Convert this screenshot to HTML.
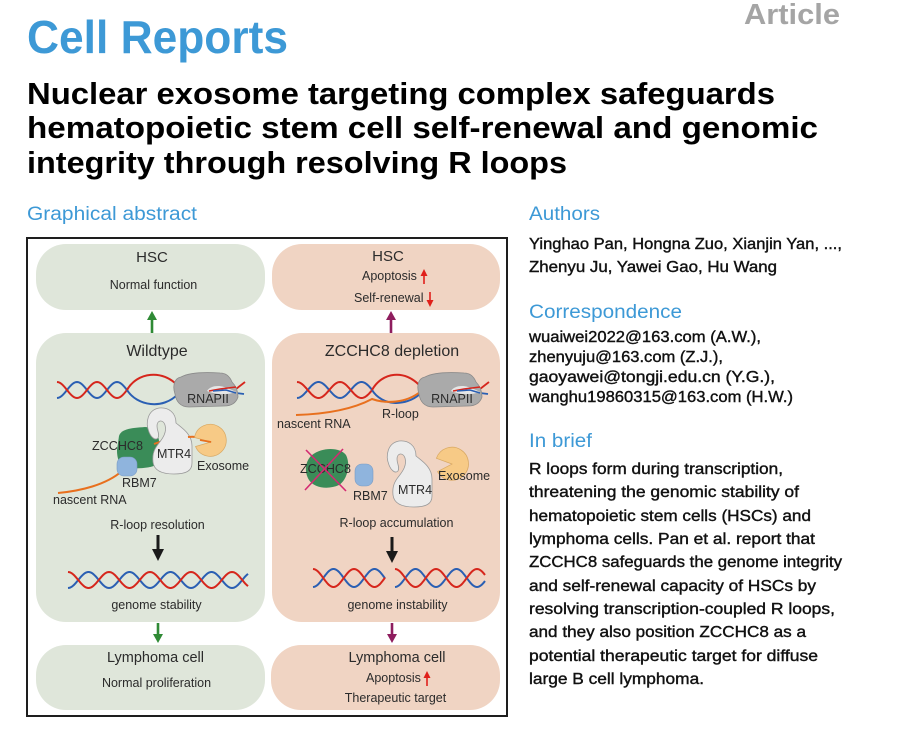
<!DOCTYPE html>
<html><head><meta charset="utf-8"><style>
html,body{margin:0;padding:0;background:#fff;}
body{width:913px;height:729px;overflow:hidden;}
svg{display:block;}
text{font-family:"Liberation Sans",Arial,sans-serif;}
.lab{font-size:12.5px;fill:#2b2b2b;}
.body{font-size:16px;fill:#111;stroke:#111;stroke-width:0.4px;}
.hd{font-size:19px;fill:#3d99d6;}
</style></head><body>
<svg id="s" width="913" height="729" viewBox="0 0 913 729" xmlns="http://www.w3.org/2000/svg">
<rect width="913" height="729" fill="#fff"/>
<!-- header -->
<text x="27" y="53" font-size="46" font-weight="bold" fill="#3d99d6" textLength="261" lengthAdjust="spacingAndGlyphs">Cell Reports</text>
<text x="744" y="24" font-size="29" font-weight="bold" fill="#a5a5a5" textLength="96" lengthAdjust="spacingAndGlyphs">Article</text>
<text x="27" y="104" font-size="31" font-weight="bold" fill="#000" textLength="748" lengthAdjust="spacingAndGlyphs">Nuclear exosome targeting complex safeguards</text>
<text x="27" y="138" font-size="31" font-weight="bold" fill="#000" textLength="791" lengthAdjust="spacingAndGlyphs">hematopoietic stem cell self-renewal and genomic</text>
<text x="27" y="173" font-size="31" font-weight="bold" fill="#000" textLength="540" lengthAdjust="spacingAndGlyphs">integrity through resolving R loops</text>
<text x="27" y="220" class="hd" textLength="170" lengthAdjust="spacingAndGlyphs">Graphical abstract</text>
<!-- right column -->
<text x="529" y="220" class="hd" textLength="71" lengthAdjust="spacingAndGlyphs">Authors</text>
<text x="529" y="249" class="body" textLength="313" lengthAdjust="spacingAndGlyphs">Yinghao Pan, Hongna Zuo, Xianjin Yan, ...,</text>
<text x="529" y="272" class="body" textLength="248" lengthAdjust="spacingAndGlyphs">Zhenyu Ju, Yawei Gao, Hu Wang</text>
<text x="529" y="318" class="hd" textLength="153" lengthAdjust="spacingAndGlyphs">Correspondence</text>
<text x="529" y="342" class="body" textLength="232" lengthAdjust="spacingAndGlyphs">wuaiwei2022@163.com (A.W.),</text>
<text x="529" y="362" class="body" textLength="194" lengthAdjust="spacingAndGlyphs">zhenyuju@163.com (Z.J.),</text>
<text x="529" y="382" class="body" textLength="246" lengthAdjust="spacingAndGlyphs">gaoyawei@tongji.edu.cn (Y.G.),</text>
<text x="529" y="402" class="body" textLength="264" lengthAdjust="spacingAndGlyphs">wanghu19860315@163.com (H.W.)</text>
<text x="529" y="447" class="hd" textLength="63" lengthAdjust="spacingAndGlyphs">In brief</text>
<text x="529" y="474" class="body" textLength="254" lengthAdjust="spacingAndGlyphs">R loops form during transcription,</text>
<text x="529" y="497" class="body" textLength="270" lengthAdjust="spacingAndGlyphs">threatening the genomic stability of</text>
<text x="529" y="521" class="body" textLength="282" lengthAdjust="spacingAndGlyphs">hematopoietic stem cells (HSCs) and</text>
<text x="529" y="544" class="body" textLength="286" lengthAdjust="spacingAndGlyphs">lymphoma cells. Pan et al. report that</text>
<text x="529" y="567" class="body" textLength="313" lengthAdjust="spacingAndGlyphs">ZCCHC8 safeguards the genome integrity</text>
<text x="529" y="591" class="body" textLength="287" lengthAdjust="spacingAndGlyphs">and self-renewal capacity of HSCs by</text>
<text x="529" y="614" class="body" textLength="306" lengthAdjust="spacingAndGlyphs">resolving transcription-coupled R loops,</text>
<text x="529" y="637" class="body" textLength="277" lengthAdjust="spacingAndGlyphs">and they also position ZCCHC8 as a</text>
<text x="529" y="661" class="body" textLength="289" lengthAdjust="spacingAndGlyphs">potential therapeutic target for diffuse</text>
<text x="529" y="684" class="body" textLength="175" lengthAdjust="spacingAndGlyphs">large B cell lymphoma.</text>

<!-- frame -->
<rect x="27" y="238" width="480" height="478" fill="#fff" stroke="#1e1e1e" stroke-width="2"/>
<!-- panels -->
<rect x="36" y="244" width="229" height="66" rx="30" fill="#dfe6da"/>
<rect x="36" y="333" width="229" height="289" rx="30" fill="#dfe6da"/>
<rect x="36" y="645" width="229" height="65" rx="30" fill="#dfe6da"/>
<rect x="272" y="244" width="228" height="66" rx="30" fill="#f0d4c3"/>
<rect x="272" y="333" width="228" height="289" rx="30" fill="#f0d4c3"/>
<rect x="271" y="645" width="229" height="65" rx="30" fill="#f0d4c3"/>

<!-- panel texts -->
<text x="152" y="262" class="lab" style="font-size:15px" text-anchor="middle">HSC</text>
<text x="153.5" y="289" class="lab" text-anchor="middle">Normal function</text>
<text x="388" y="261" class="lab" style="font-size:15px" text-anchor="middle">HSC</text>
<text x="362" y="280" class="lab">Apoptosis</text>
<text x="354" y="302" class="lab">Self-renewal</text>
<text x="157" y="356" class="lab" style="font-size:16px" text-anchor="middle">Wildtype</text>
<text x="392" y="356" class="lab" style="font-size:16px" text-anchor="middle">ZCCHC8 depletion</text>
<text x="155.5" y="662" class="lab" style="font-size:14.5px" text-anchor="middle">Lymphoma cell</text>
<text x="156.5" y="687" class="lab" text-anchor="middle">Normal proliferation</text>
<text x="397" y="662" class="lab" style="font-size:14.5px" text-anchor="middle">Lymphoma cell</text>
<text x="366" y="682" class="lab">Apoptosis</text>
<text x="395.5" y="702" class="lab" text-anchor="middle">Therapeutic target</text>
<text x="157.5" y="529" class="lab" text-anchor="middle">R-loop resolution</text>
<text x="396.5" y="527" class="lab" text-anchor="middle">R-loop accumulation</text>
<text x="156.5" y="609" class="lab" text-anchor="middle">genome stability</text>
<text x="397.5" y="609" class="lab" text-anchor="middle">genome instability</text>

<!-- red small arrows -->
<g stroke="#e0201b" stroke-width="1.6" fill="#e0201b">
<line x1="424" y1="284" x2="424" y2="274"/><polygon points="420.5,276 424,269 427.5,276" stroke="none"/>
<line x1="430" y1="292" x2="430" y2="302"/><polygon points="426.5,300 430,307 433.5,300" stroke="none"/>
<line x1="427" y1="686" x2="427" y2="676"/><polygon points="423.5,678 427,671 430.5,678" stroke="none"/>
</g>
<!-- connectors -->
<g stroke-width="2.6">
<line x1="152" y1="333" x2="152" y2="318" stroke="#2f8a35"/><polygon points="147,320 152,311 157,320" fill="#2f8a35"/>
<line x1="158" y1="623" x2="158" y2="636" stroke="#2f8a35"/><polygon points="153,634 158,643 163,634" fill="#2f8a35"/>
<line x1="391" y1="333" x2="391" y2="318" stroke="#8e1d5e"/><polygon points="386,320 391,311 396,320" fill="#8e1d5e"/>
<line x1="392" y1="623" x2="392" y2="636" stroke="#8e1d5e"/><polygon points="387,634 392,643 397,634" fill="#8e1d5e"/>
</g>
<g stroke="#1a1a1a" stroke-width="3">
<line x1="158" y1="535" x2="158" y2="552"/><polygon points="152,549 158,561 164,549" fill="#1a1a1a" stroke="none"/>
<line x1="392" y1="537" x2="392" y2="554"/><polygon points="386,551 392,563 398,551" fill="#1a1a1a" stroke="none"/>
</g>

<!-- helices (generated) -->
<g id="hel" fill="none" stroke-width="2"></g>

<!-- LEFT top: bubble -->
<path d="M127,390 C137,406 163,410 178,394" stroke="#2a5fb3" stroke-width="2" fill="none"/>
<path d="M127,390 C137,372 163,369 178,386" stroke="#d6261c" stroke-width="2" fill="none"/>
<!-- RNAPII left -->
<g id="pol">
<path d="M236,389 L245,382" stroke="#d6261c" stroke-width="1.8"/>
<path d="M236,393 L244,394" stroke="#2a5fb3" stroke-width="1.8"/>
<path d="M175,394 C172,385 175,378 181,377 C190,372 205,372 220,373 C226,373 230,377 232,382 C236,386 238,391 238,397 C236,403 231,406 224,406 L189,407 C180,407 176,401 175,394 Z" fill="#aaaaaa" stroke="#8a8a8a" stroke-width="0.8"/>
<path d="M207,391 C210,386 218,385 224,387 C228,388 232,390 236,392 C228,395 216,395 207,391 Z" fill="#e6e6e6"/>
<path d="M209,391 L220,389 L236,387" stroke="#d6261c" stroke-width="1.5" fill="none"/>
<path d="M213,391 L226,390 L236,393" stroke="#2a5fb3" stroke-width="1.5" fill="none"/>
<text x="208" y="403" class="lab" text-anchor="middle">RNAPII</text>
</g>

<!-- LEFT proteins -->
<path d="M58,493 C80,491 106,485 122,471" stroke="#e8701e" stroke-width="2" fill="none"/>
<path d="M119,436 C121,429 131,428 145,427 L156,428 C160,440 161,455 158,464 C152,468 138,469 128,468 C120,467 117,460 117,450 Z" fill="#3a8c58"/>
<rect x="117" y="457" width="20" height="19" rx="7" fill="#8fb4dd" stroke="#7a9cc4" stroke-width="0.6"/>
<path d="M154,444 C162,441 170,439 176,438" stroke="#e8701e" stroke-width="2" fill="none"/>
<g id="mtr">
<path d="M149,432 C145,422 148,410 159,408 C169,407 176,413 176,423 C182,428 192,434 192,446 L192,463 C192,471 186,474 174,474 C162,474 154,471 153,462 C152,453 155,448 159,443 C163,438 167,432 165,425 C163,419 157,420 157,426 C157,431 160,434 158,438 C155,441 151,437 149,432 Z" fill="#ececec" stroke="#9a9a9a" stroke-width="0.8"/>
</g>
<path d="M188,437 C196,436 204,438 211,442" stroke="#e8701e" stroke-width="2" fill="none"/>
<path d="M211,442 L194.5,437.5 A16,16 0 1 1 195.5,446.5 Z" fill="#f7ca86" stroke="#d8a862" stroke-width="0.7"/>
<path d="M200,440 L211,442" stroke="#e8701e" stroke-width="1.8"/>
<text x="92" y="450" class="lab" textLength="51" lengthAdjust="spacingAndGlyphs">ZCCHC8</text>
<text x="157" y="458" class="lab">MTR4</text>
<text x="197" y="470" class="lab">Exosome</text>
<text x="122" y="487" class="lab">RBM7</text>
<text x="53" y="504" class="lab">nascent RNA</text>

<!-- RIGHT top bubble -->
<path d="M372,390 C382,406 405,407 420,394" stroke="#2a5fb3" stroke-width="2" fill="none"/>
<path d="M372,390 C382,372 405,369 420,386" stroke="#d6261c" stroke-width="2" fill="none"/>
<path d="M296,415 C330,414 355,408 372,399 C386,404 406,403 420,392" stroke="#e8701e" stroke-width="2" fill="none"/>
<use href="#pol" transform="translate(244,0)"/>
<text x="382" y="418" class="lab">R-loop</text>
<text x="277" y="428" class="lab">nascent RNA</text>

<!-- RIGHT proteins -->
<path d="M312,455 C322,447 340,447 346,455 C351,465 347,480 339,485 C328,490 314,488 309,480 C304,472 305,461 312,455 Z" fill="#3a8c58"/>
<text x="300" y="473" class="lab" textLength="51" lengthAdjust="spacingAndGlyphs">ZCCHC8</text>
<g stroke="#d42a72" stroke-width="1.6">
<line x1="306" y1="450" x2="346" y2="491"/>
<line x1="343" y1="449" x2="305" y2="490"/>
</g>
<rect x="355" y="464" width="18" height="22" rx="7" fill="#8fb4dd" stroke="#7a9cc4" stroke-width="0.6"/>
<use href="#mtr" transform="translate(240,33)"/>
<path d="M452,464 L436.4,458.3 A16.5,16.5 0 1 1 437.5,471.6 Z" fill="#f7ca86" stroke="#d8a862" stroke-width="0.7"/>
<text x="353" y="500" class="lab">RBM7</text>
<text x="398" y="494" class="lab">MTR4</text>
<text x="438" y="480" class="lab">Exosome</text>
</svg>
<script>
(function(){
var g=document.getElementById('hel');
function strand(x0,x1,cy,A,P,ph,col){
  var d='';
  for(var x=x0;x<=x1+0.001;x+=1){
    var y=cy-A*Math.cos(2*Math.PI*(x-x0)/P+ph);
    d+=(d?'L':'M')+x.toFixed(1)+','+y.toFixed(2);
  }
  var p=document.createElementNS('http://www.w3.org/2000/svg','path');
  p.setAttribute('d',d);p.setAttribute('stroke',col);
  g.appendChild(p);
}
function helix(x0,x1,cy,A,P){
  strand(x0,x1,cy,A,P,Math.PI,'#2a5fb3');
  strand(x0,x1,cy,A,P,0,'#d6261c');
}
helix(57,127,390,8,40);
helix(297,372,390,8,43);
helix(68,248,580,8,41);
helix(313,385,578,9,41);
helix(395,485,578,9,41);
})();
</script>
</body></html>
